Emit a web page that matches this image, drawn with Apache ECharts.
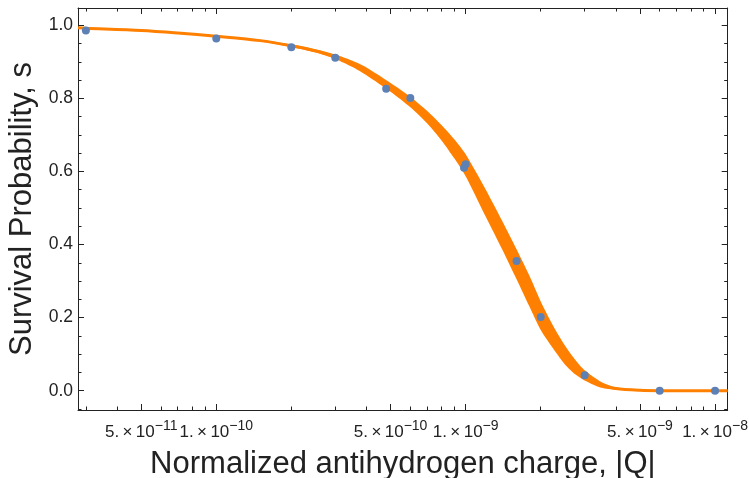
<!DOCTYPE html>
<html>
<head>
<meta charset="utf-8">
<script src="https://cdn.jsdelivr.net/npm/echarts@6/dist/echarts.min.js"></script>
<style>html,body{margin:0;padding:0;background:#fff}#c{width:749px;height:478px}</style>
</head>
<body>
<div id="c"></div>
<script>
// ---- measured data points ----
const chargeData   = [3e-11, 1e-10, 2e-10, 3e-10, 4.8e-10, 6e-10, 0.985e-9, 1.0e-9, 1.6e-9, 2e-9, 3e-9, 6e-9, 1e-8];
const survivalData = [0.986, 0.964, 0.940, 0.911, 0.826, 0.801, 0.610, 0.620, 0.355, 0.202, 0.042, 0.0, 0.0];

// ---- fitted curve ----
const fitCharge = [2.789e-11, 3e-11, 5e-11, 7e-11, 1e-10, 1.5e-10, 2e-10, 2.5e-10, 3e-10, 3.5e-10, 4e-10, 5e-10, 6e-10, 7e-10, 8e-10, 9e-10,
                   1e-9, 1.2e-9, 1.4e-9, 1.6e-9, 1.8e-9, 2e-9, 2.25e-9, 2.5e-9, 2.75e-9, 3e-9, 3.5e-9, 4e-9, 5e-9, 6e-9, 8e-9, 1e-8, 1.124e-8];
const fitSurvival = [0.993, 0.992, 0.986, 0.979, 0.970, 0.958, 0.944, 0.930, 0.914, 0.895, 0.874, 0.830, 0.790, 0.749, 0.706, 0.662,
                   0.617, 0.515, 0.426, 0.346, 0.273, 0.205, 0.145, 0.098, 0.065, 0.042, 0.016, 0.006, 0.001, 0.0, 0.0, 0.0, 0.0];
// half thickness of the orange uncertainty band (in s units)
const fitBandHalf = [0.0003, 0.0003, 0.0005, 0.0008, 0.0014, 0.0022, 0.0033, 0.0045, 0.006, 0.0083, 0.0105, 0.012, 0.0145, 0.017, 0.021, 0.026,
                   0.030, 0.037, 0.039, 0.041, 0.042, 0.039, 0.031, 0.026, 0.020, 0.014, 0.008, 0.0035, 0.0006, 0.0, 0.0, 0.0, 0.0];

// ---- axes ----
const xRange = [2.789e-11, 1.124e-8];
const yRange = [-0.0528, 1.0473];
const xMajorTicks = [5e-11, 1e-10, 5e-10, 1e-9, 5e-9, 1e-8];
const xMajorMantissa = ['5.', '1.', '5.', '1.', '5.', '1.'];
const xMajorExponent = ['\u221211', '\u221210', '\u221210', '\u22129', '\u22129', '\u22128'];
const xMinorTicks = [3e-11, 4e-11, 6e-11, 7e-11, 8e-11, 9e-11, 2e-10, 3e-10, 4e-10, 6e-10, 7e-10, 8e-10, 9e-10,
                     2e-9, 3e-9, 4e-9, 6e-9, 7e-9, 8e-9, 9e-9];
const yMajorTicks = [0, 0.2, 0.4, 0.6, 0.8, 1.0];
const yMajorLabels = ['0.0', '0.2', '0.4', '0.6', '0.8', '1.0'];
const yMinorTicks = [-0.05, 0.05, 0.1, 0.15, 0.25, 0.3, 0.35, 0.45, 0.5, 0.55, 0.65, 0.7, 0.75, 0.85, 0.9, 0.95];

const xTitle = 'Normalized antihydrogen charge, |Q|';
const yTitle = 'Survival Probability, s';

const FONT = '"Liberation Sans", Arial, sans-serif';
const INK = '#222';
const ORANGE = '#FF8000';
const BLUE = '#5E81B5';

const lx = xRange.map(Math.log10);
const xMajLog = xMajorTicks.map(Math.log10);
const xMinLog = xMinorTicks.map(Math.log10);

const gridBox = {left: 78, top: 8, right: 21.3, bottom: 68, containLabel: false, outerBoundsMode: 'none'};
const lineSt = {color: INK, width: 1};

function xTickAxis(grid, pos, values, len, extra) {
  return Object.assign({
    gridIndex: grid, type: 'value', min: lx[0], max: lx[1], position: pos,
    axisLine: {show: false, onZero: false},
    axisTick: {show: true, inside: true, length: len, customValues: values, lineStyle: lineSt},
    axisLabel: {show: false}, splitLine: {show: false}
  }, extra || {});
}
function yTickAxis(grid, pos, values, len, extra) {
  return Object.assign({
    gridIndex: grid, type: 'value', min: yRange[0], max: yRange[1], position: pos,
    axisLine: {show: false, onZero: false},
    axisTick: {show: true, inside: true, length: len, customValues: values, lineStyle: lineSt},
    axisLabel: {show: false}, splitLine: {show: false}
  }, extra || {});
}

const points = chargeData.map((q, i) => [q, survivalData[i]]);
const fit = fitCharge.map((q, i) => [q, fitSurvival[i]]);

const chart = echarts.init(document.getElementById('c'), null, {renderer: 'canvas'});
chart.setOption({
  animation: false,
  backgroundColor: '#fff',
  grid: [Object.assign({}, gridBox), Object.assign({}, gridBox), Object.assign({}, gridBox)],
  xAxis: [
    { // data axis (log) + bottom frame
      gridIndex: 0, type: 'log', logBase: 10, min: xRange[0], max: xRange[1], position: 'bottom',
      axisLine: {show: true, onZero: false, lineStyle: lineSt},
      axisTick: {show: false}, axisLabel: {show: false}, splitLine: {show: false}, minorTick: {show: false},
      name: xTitle, nameLocation: 'middle', nameGap: 39,
      nameTextStyle: {fontFamily: FONT, fontSize: 31, color: INK}
    },
    xTickAxis(0, 'top', xMajLog, 6, {axisLine: {show: true, onZero: false, lineStyle: lineSt}}),
    xTickAxis(1, 'bottom', xMajLog, 6, {
      axisLabel: {
        show: true, customValues: xMajLog, margin: 9,
        formatter: function (v) {
          let k = 0, best = 1e9;
          xMajLog.forEach((t, i) => { const d = Math.abs(t - v); if (d < best) { best = d; k = i; } });
          return '{m|' + xMajorMantissa[k] + '\u2009\u00d7\u200910}{e|' + xMajorExponent[k] + '}';
        },
        rich: {
          m: {fontFamily: FONT, fontSize: 17, color: INK},
          e: {fontFamily: FONT, fontSize: 14, color: INK, padding: [0, 0, 13, 0]}
        }
      }
    }),
    xTickAxis(1, 'top', xMinLog, 3.5),
    xTickAxis(2, 'bottom', xMinLog, 3.5)
  ],
  yAxis: [
    {
      gridIndex: 0, type: 'value', min: yRange[0], max: yRange[1], position: 'left',
      axisLine: {show: true, onZero: false, lineStyle: lineSt},
      axisTick: {show: true, inside: true, length: 6, customValues: yMajorTicks, lineStyle: lineSt},
      axisLabel: {
        show: true, customValues: yMajorTicks, margin: 5,
        fontFamily: FONT, fontSize: 17.5, color: INK,
        formatter: function (v) {
          let k = 0, best = 1e9;
          yMajorTicks.forEach((t, i) => { const d = Math.abs(t - v); if (d < best) { best = d; k = i; } });
          return yMajorLabels[k];
        }
      },
      splitLine: {show: false},
      name: yTitle, nameLocation: 'middle', nameGap: 40,
      nameTextStyle: {fontFamily: FONT, fontSize: 31, color: INK}
    },
    yTickAxis(0, 'right', yMajorTicks, 6, {axisLine: {show: true, onZero: false, lineStyle: lineSt}}),
    yTickAxis(1, 'left', yMinorTicks, 3.5),
    yTickAxis(1, 'right', yMinorTicks, 3.5),
    yTickAxis(2, 'left', [], 0, {axisTick: {show: false}})
  ],
  series: [
    { // uncertainty band of the fit
      type: 'custom', xAxisIndex: 0, yAxisIndex: 0, silent: true, clip: true, z: 2,
      data: fit,
      renderItem: function (params, api) {
        if (params.dataIndex !== 0) return null;
        const upper = fitCharge.map((q, i) => api.coord([q, fitSurvival[i] + fitBandHalf[i]]));
        const lower = fitCharge.map((q, i) => api.coord([q, fitSurvival[i] - fitBandHalf[i]])).reverse();
        return {type: 'polygon', shape: {points: upper.concat(lower), smooth: 0.25}, style: {fill: ORANGE}};
      }
    },
    {
      type: 'line', xAxisIndex: 0, yAxisIndex: 0, data: fit, z: 3,
      smooth: 0.3, symbol: 'none', silent: true,
      lineStyle: {color: ORANGE, width: 3}
    },
    {
      type: 'scatter', xAxisIndex: 0, yAxisIndex: 0, data: points, z: 10,
      symbol: 'circle', symbolSize: 8, itemStyle: {color: BLUE, opacity: 1}
    }
  ]
});
</script>
</body>
</html>
